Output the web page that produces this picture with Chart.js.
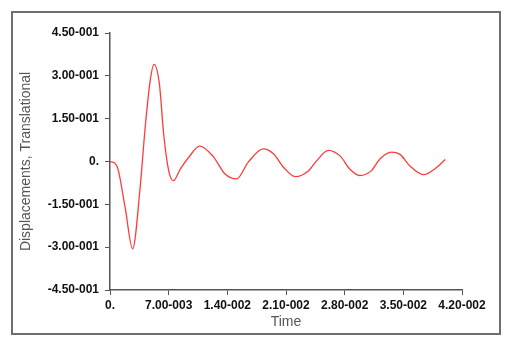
<!DOCTYPE html>
<html>
<head>
<meta charset="utf-8">
<script src="https://cdn.jsdelivr.net/npm/chart.js@4"></script>
<style>
  html, body { margin: 0; padding: 0; background: #fff; }
  #wrap { width: 512px; height: 345px; }
</style>
</head>
<body>
<div id="wrap"><canvas id="dispChart" width="512" height="345"></canvas></div>
<script>
// time (s) and translational displacement
const times = [0, 0.0008, 0.0018, 0.0027, 0.0036, 0.0042, 0.0048, 0.00525, 0.0059, 0.0064, 0.0070, 0.00756,
  0.0084, 0.0094, 0.0107, 0.0123, 0.0137, 0.0151, 0.0165, 0.0183, 0.0195, 0.0207, 0.0221, 0.0237,
  0.0247, 0.02605, 0.0275, 0.0286, 0.0298, 0.0312, 0.0322, 0.0336, 0.0346, 0.0358, 0.0374, 0.0390, 0.0400];
const displacements = [0, -0.014, -0.16, -0.306, -0.09, 0.12, 0.284, 0.34, 0.27, 0.097, -0.032, -0.067,
  -0.026, 0.015, 0.054, 0.018, -0.043, -0.061, -0.002, 0.044, 0.027, -0.02, -0.053, -0.032,
  0.004, 0.039, 0.018, -0.026, -0.049, -0.032, 0.009, 0.033, 0.025, -0.016, -0.046, -0.02, 0.007];
const yTicks = [-0.45, -0.30, -0.15, 0, 0.15, 0.30, 0.45];
const xTicks = [0, 0.007, 0.014, 0.021, 0.028, 0.035, 0.042];

// fortran-ish label: 4.50-001, 0. for zero
function sciLabel(v) {
  if (Math.abs(v) < 1e-12) return '0.';
  let e = Math.floor(Math.log10(Math.abs(v)) + 1e-9);
  let m = v / Math.pow(10, e);
  let es = (e < 0 ? '-' : '+') + String(Math.abs(e)).padStart(3, '0');
  return m.toFixed(2) + es;
}

const frame = {
  id: 'frame',
  beforeDraw(chart) {
    const c = chart.ctx;
    c.save();
    c.fillStyle = '#fff';
    c.fillRect(0, 0, chart.width, chart.height);
    c.strokeStyle = '#6e6e6e';
    c.lineWidth = 2;
    c.strokeRect(12, 12, 488, 322);
    c.restore();
  }
};

const tickFont = { family: 'Liberation Sans', size: 12, weight: 'bold' };
const titleFont = { family: 'Liberation Sans', size: 14 };

new Chart(document.getElementById('dispChart'), {
  type: 'line',
  data: {
    datasets: [{
      data: times.map((t, i) => ({ x: t, y: displacements[i] })),
      borderColor: '#ff3b3b',
      borderWidth: 1.3,
      pointRadius: 0,
      fill: false,
      cubicInterpolationMode: 'monotone'
    }]
  },
  options: {
    responsive: false,
    animation: false,
    layout: { padding: { left: 12, top: 33, right: 50, bottom: 10 } },
    plugins: { legend: { display: false }, tooltip: { enabled: false } },
    scales: {
      x: {
        type: 'linear',
        min: 0,
        max: 0.042,
        afterBuildTicks: s => { s.ticks = xTicks.map(v => ({ value: v })); },
        afterFit: s => { s.height = 45; },
        grid: { drawOnChartArea: false, drawTicks: true, tickLength: 5, color: '#555' },
        border: { color: '#555', width: 1.5 },
        ticks: { callback: v => sciLabel(v), font: tickFont, color: '#111', padding: 3, maxRotation: 0, autoSkip: false },
        title: { display: true, text: 'Time', font: titleFont, color: '#555', padding: { top: 0 } }
      },
      y: {
        min: -0.45,
        max: 0.45,
        afterBuildTicks: s => { s.ticks = yTicks.map(v => ({ value: v })); },
        afterFit: s => { s.width = 98; },
        grid: { drawOnChartArea: false, drawTicks: true, tickLength: 5, color: '#555' },
        border: { color: '#555', width: 1.5 },
        ticks: { callback: v => sciLabel(v), font: tickFont, color: '#111', padding: 6, autoSkip: false },
        title: { display: true, text: 'Displacements, Translational', font: titleFont, color: '#555', padding: { top: 6, bottom: 0 } }
      }
    }
  },
  plugins: [frame]
});
</script>
</body>
</html>
